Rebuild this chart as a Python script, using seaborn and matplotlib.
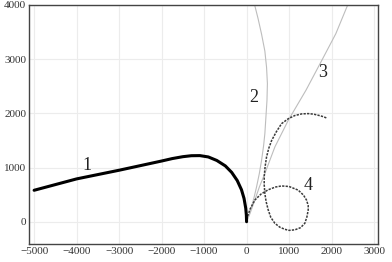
import matplotlib
matplotlib.use("Agg")
import matplotlib.pyplot as plt
import seaborn as sns
import pandas as pd

# curve values
x1 = [-5000, -4500, -4000, -3500, -3000, -2500, -2000, -1750, -1500, -1300, -1100,
      -900, -700, -500, -350, -220, -120, -60, -20, -5, 0]
y1 = [580, 685, 790, 870, 950, 1035, 1120, 1165, 1200, 1218, 1220,
      1195, 1130, 1030, 910, 760, 590, 430, 250, 120, 0]

x2 = [0, 60, 118, 180, 235, 300, 353, 400, 430, 455, 480, 490, 470, 430, 353, 270, 190]
y2 = [0, 130, 276, 460, 643, 890, 1134, 1400, 1625, 1930, 2240, 2550, 2850, 3150,
      3460, 3750, 4000]

x3 = [0, 80, 195, 300, 430, 666, 980, 1400, 1765, 2100, 2353, 2380]
y3 = [0, 150, 400, 640, 890, 1380, 1870, 2430, 2970, 3470, 3950, 4000]

x4 = [0, 80, 195, 340, 510, 680, 823, 1000, 1215, 1340, 1410, 1450, 1450, 1420, 1370,
      1270, 1136, 1000, 900, 780, 666, 570, 510, 460, 430, 415, 415, 435, 470, 520,
      590, 700, 823, 980, 1136, 1300, 1450, 1580, 1685, 1800, 1880]
y4 = [40, 230, 400, 510, 590, 640, 660, 650, 583, 490, 400, 300, 215, 90, -30,
      -110, -150, -160, -140, -100, -30, 80, 215, 370, 520, 680, 830, 1010, 1195, 1350,
      1500, 1660, 1810, 1900, 1960, 1990, 1995, 1985, 1965, 1940, 1915]

curve_labels = ["1", "2", "3", "4"]
label_x = [-3765, 157, 1800, 1450]
label_y = [1040, 2300, 2760, 675]

xticks = [-5000, -4000, -3000, -2000, -1000, 0, 1000, 2000, 3000]
yticks = [0, 1000, 2000, 3000, 4000]

sns.set_style("whitegrid", {"grid.color": "#ececec", "axes.edgecolor": "#444444"})
plt.rcParams['font.family'] = ['Liberation Serif', 'DejaVu Serif']

fig = plt.figure(figsize=(3.92, 2.62), dpi=100)
ax = fig.add_axes([0.074, 0.069, 0.89, 0.912])

curves = [
    (x2, y2, dict(color='#bdbdbd', linewidth=0.8)),
    (x3, y3, dict(color='#bdbdbd', linewidth=0.8)),
    (x4, y4, dict(color='#3a3a3a', linewidth=1.1, linestyle=(0, (1.5, 0.8)))),
    (x1, y1, dict(color='black', linewidth=2.2)),
]
for xs, ys, style in curves:
    df = pd.DataFrame({'x': xs, 'y': ys})
    sns.lineplot(x='x', y='y', data=df, sort=False, estimator=None, ax=ax, **style)

for t, tx, ty in zip(curve_labels, label_x, label_y):
    ax.text(tx, ty, t, fontsize=13, ha='center', va='center', color='#222222')

ax.set_xlim(-5120, 3090)
ax.set_ylim(-410, 4000)
ax.set_xticks(xticks)
ax.set_yticks(yticks)
ax.set_xticklabels([str(v).replace('-', '\u2212') for v in xticks])
ax.set_yticklabels([str(v) for v in yticks])
ax.tick_params(labelsize=8, pad=2, length=0, colors='#333333')
ax.set_xlabel('')
ax.set_ylabel('')
for s in ax.spines.values():
    s.set_linewidth(1.0)

plt.savefig('out.png', dpi=100)
